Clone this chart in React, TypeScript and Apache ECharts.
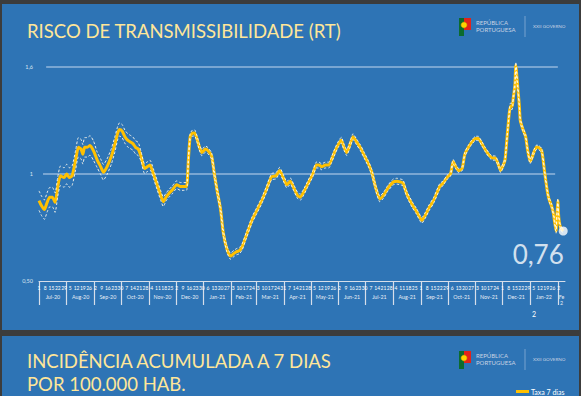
import React, { useEffect, useRef } from 'react';
import * as echarts from 'echarts';

// Day index counted from 1 Jul 2020
const rtDays = [0,3,6,9,12,15,18,21,24,28,31,34,37,41,44,47,49,51,54,57,61,65,69,72,76,81,85,88,90,93,96,99,102,105,108,111,114,118,121,124,128,132,136,139,142,145,149,154,158,162,165,167,169,172,174,177,180,182,186,189,193,196,199,203,206,210,214,218,221,224,227,232,238,243,249,254,260,265,269,273,277,281,285,289,292,296,301,306,310,313,316,320,324,327,331,335,338,341,344,348,351,355,359,363,368,372,376,381,385,390,396,400,404,407,411,417,422,428,432,436,441,448,452,456,460,463,466,469,473,476,480,484,488,491,495,499,504,507,510,513,516,519,521,524,527,529,530,532,533,535,537,538,541,544,546,549,551,553,556,558,562,565,568,570,573,575,578,579,580,581,583,586];
const rtValues = [0.913,0.885,0.867,0.903,0.931,0.931,0.903,0.986,1.041,1.032,1.050,1.032,1.041,1.123,1.187,1.178,1.151,1.187,1.187,1.197,1.169,1.123,1.087,1.059,1.087,1.142,1.206,1.261,1.279,1.270,1.242,1.224,1.215,1.206,1.187,1.178,1.142,1.078,1.087,1.096,1.050,0.995,0.940,0.908,0.931,0.949,0.968,0.995,0.986,0.986,0.986,1.123,1.242,1.261,1.261,1.224,1.178,1.160,1.178,1.169,1.142,1.050,0.968,0.867,0.748,0.665,0.628,0.642,0.651,0.656,0.674,0.738,0.812,0.858,0.913,0.968,1.036,1.041,1.068,1.032,0.995,1.013,0.977,0.940,0.931,0.958,1.004,1.050,1.096,1.096,1.087,1.096,1.096,1.123,1.169,1.206,1.224,1.187,1.160,1.206,1.242,1.215,1.187,1.151,1.105,1.059,0.986,0.922,0.940,0.977,1.009,1.013,1.009,1.004,0.949,0.894,0.858,0.812,0.839,0.876,0.913,0.986,1.004,1.032,1.050,1.114,1.087,1.068,1.078,1.151,1.187,1.215,1.233,1.233,1.206,1.174,1.142,1.132,1.132,1.105,1.068,1.096,1.123,1.279,1.398,1.398,1.435,1.508,1.609,1.508,1.398,1.325,1.279,1.242,1.178,1.114,1.132,1.160,1.187,1.187,1.169,1.068,0.968,0.922,0.885,0.848,0.757,0.848,0.913,0.830,0.775,0.757];
const rtUpper = [0.963,0.935,0.917,0.953,0.981,0.981,0.953,1.036,1.091,1.082,1.100,1.082,1.091,1.173,1.237,1.228,1.201,1.237,1.237,1.247,1.219,1.163,1.127,1.099,1.127,1.182,1.246,1.295,1.313,1.304,1.276,1.258,1.249,1.240,1.221,1.212,1.167,1.103,1.112,1.121,1.075,1.020,0.965,0.933,0.951,0.969,0.988,1.015,1.006,1.006,1.006,1.139,1.258,1.277,1.277,1.240,1.194,1.176,1.194,1.185,1.158,1.066,0.984,0.883,0.764,0.681,0.644,0.658,0.667,0.672,0.690,0.754,0.828,0.874,0.929,0.984,1.052,1.057,1.084,1.048,1.011,1.029,0.993,0.956,0.947,0.974,1.019,1.065,1.111,1.111,1.102,1.111,1.111,1.138,1.184,1.221,1.239,1.202,1.175,1.221,1.257,1.230,1.202,1.166,1.120,1.074,1.001,0.937,0.955,0.992,1.024,1.028,1.024,1.019,0.964,0.909,0.873,0.827,0.854,0.891,0.928,1.001,1.015,1.043,1.061,1.125,1.098,1.079,1.089,1.162,1.198,1.226,1.244,1.244,1.217,1.185,1.153,1.143,1.143,1.116,1.079,1.107,1.134,1.290,1.414,1.414,1.451,1.524,1.625,1.524,1.414,1.336,1.290,1.253,1.189,1.125,1.143,1.171,1.198,1.198,1.180,1.079,0.979,0.933,0.896,0.859,0.768,0.859,0.924,0.841,0.786,0.768];
const rtLower = [0.863,0.835,0.817,0.853,0.881,0.881,0.853,0.936,0.991,0.982,1.000,0.982,0.991,1.073,1.137,1.128,1.101,1.137,1.137,1.147,1.119,1.083,1.047,1.019,1.047,1.102,1.166,1.227,1.245,1.236,1.208,1.190,1.181,1.172,1.153,1.144,1.117,1.053,1.062,1.071,1.025,0.970,0.915,0.883,0.911,0.929,0.948,0.975,0.966,0.966,0.966,1.107,1.226,1.245,1.245,1.208,1.162,1.144,1.162,1.153,1.126,1.034,0.952,0.851,0.732,0.649,0.612,0.626,0.635,0.640,0.658,0.722,0.796,0.842,0.897,0.952,1.020,1.025,1.052,1.016,0.979,0.997,0.961,0.924,0.915,0.942,0.989,1.035,1.081,1.081,1.072,1.081,1.081,1.108,1.154,1.191,1.209,1.172,1.145,1.191,1.227,1.200,1.172,1.136,1.090,1.044,0.971,0.907,0.925,0.962,0.994,0.998,0.994,0.989,0.934,0.879,0.843,0.797,0.824,0.861,0.898,0.971,0.993,1.021,1.039,1.103,1.076,1.057,1.067,1.140,1.176,1.204,1.222,1.222,1.195,1.163,1.131,1.121,1.121,1.094,1.057,1.085,1.112,1.268,1.382,1.382,1.419,1.492,1.593,1.492,1.382,1.314,1.268,1.231,1.167,1.103,1.121,1.149,1.176,1.176,1.158,1.057,0.957,0.911,0.874,0.837,0.746,0.837,0.902,0.819,0.764,0.746];
const rtLatestLabel = '0,76';

const monthLabels = ['Jul-20','Aug-20','Sep-20','Oct-20','Nov-20','Dec-20','Jan-21','Feb-21','Mar-21','Apr-21','May-21','Jun-21','Jul-21','Aug-21','Sep-21','Oct-21','Nov-21','Dec-21','Jan-22','Fe\n2'];
const monthStartDays = [0,31,62,92,123,153,184,215,243,274,304,335,365,396,427,457,488,518,549,580];
const axisEndDay = 588;
const yTickValues = [0.5, 1.05, 1.6];
const yTickLabels = ['0,50', '1', '1,6'];

const titleTop = 'RISCO DE TRANSMISSIBILIDADE (RT)';
const titleBottom1 = 'INCIDÊNCIA ACUMULADA A 7 DIAS';
const titleBottom2 = 'POR 100.000 HAB.';
const legendBottom = 'Taxa 7 dias';

const BLUE = '#2E74B5';
const DARK = '#3C3C3C';
const TITLE = '#FFE699';
const FONT = 'Lato, "Noto Sans", sans-serif';

const startUTC = Date.UTC(2020, 6, 1);

function logo(dy: number) {
  return [
    { type: 'rect', shape: { x: 459, y: 18 + dy, width: 5, height: 18 }, style: { fill: '#0B6B2E' }, z: 50 },
    { type: 'rect', shape: { x: 464, y: 18 + dy, width: 7, height: 12 }, style: { fill: '#E2231A' }, z: 50 },
    { type: 'circle', shape: { cx: 464, cy: 25 + dy, r: 3 }, style: { fill: '#FFD200', stroke: '#C99A00', lineWidth: 0.5 }, z: 51 },
    { type: 'text', x: 476, y: 22.5 + dy, style: { text: 'REPÚBLICA', fill: '#C8D3E3', fontSize: 6, fontFamily: FONT, verticalAlign: 'middle' }, z: 50 },
    { type: 'text', x: 476, y: 29.5 + dy, style: { text: 'PORTUGUESA', fill: '#C8D3E3', fontSize: 6, fontFamily: FONT, verticalAlign: 'middle' }, z: 50 },
    { type: 'line', shape: { x1: 525, y1: 16 + dy, x2: 525, y2: 37 + dy }, style: { stroke: 'rgba(200,215,235,0.6)', lineWidth: 0.8 }, z: 50 },
    { type: 'text', x: 533, y: 25.5 + dy, style: { text: 'XXII GOVERNO', fill: '#C8D3E3', fontSize: 4.6, fontFamily: FONT, verticalAlign: 'middle' }, z: 50 },
  ];
}

export default function App() {
  const ref = useRef<HTMLDivElement>(null);
  useEffect(() => {
    if (!ref.current) return;
    const chart = echarts.init(ref.current, undefined, { renderer: 'svg' });
    const weekDays: number[] = [];
    for (let d = 0; d <= 581; d += 7) weekDays.push(d);
    const monthMid = monthStartDays.map((s, i) => (s + (i + 1 < monthStartDays.length ? monthStartDays[i + 1] : axisEndDay)) / 2);
    const mainData = rtDays.map((d, i) => [d, rtValues[i]]);
    const upData = rtDays.map((d, i) => [d, rtUpper[i]]);
    const loData = rtDays.map((d, i) => [d, rtLower[i]]);
    const last = rtDays.length - 1;

    chart.setOption({
      animation: false,
      backgroundColor: BLUE,
      grid: { left: 39, right: 16, top: 67, height: 214, containLabel: false, outerBoundsMode: 'none' },
      xAxis: [
        {
          type: 'value', min: 0, max: axisEndDay, position: 'bottom',
          axisLine: { show: true, lineStyle: { color: '#D6DEEA', width: 1 } },
          axisTick: { show: true, customValues: monthStartDays, length: 24, lineStyle: { color: '#D6DEEA', width: 1.2 } },
          splitLine: { show: false },
          axisLabel: {
            customValues: weekDays, margin: 4, fontSize: 5, color: '#FFFFFF', fontFamily: FONT,
            formatter: (v: number) => String(new Date(startUTC + v * 86400000).getUTCDate()),
          },
        },
        {
          type: 'value', min: 0, max: axisEndDay, position: 'bottom', offset: 0,
          axisLine: { show: false }, axisTick: { show: false }, splitLine: { show: false },
          axisLabel: {
            customValues: monthMid, margin: 13, fontSize: 5.3, lineHeight: 6, color: '#E8EEF6', fontFamily: FONT,
            formatter: (v: number) => monthLabels[monthMid.findIndex((m) => Math.abs(m - v) < 1e-6)] || '',
          },
        },
      ],
      yAxis: {
        type: 'value', min: 0.5, max: 1.6,
        axisLine: { show: false }, axisTick: { show: false }, splitLine: { show: false },
        axisLabel: {
          customValues: yTickValues, margin: 6, fontSize: 5.5, color: '#DCE5F1', fontFamily: FONT,
          formatter: (v: number) => yTickLabels[yTickValues.findIndex((t) => Math.abs(t - v) < 1e-6)] || '',
        },
      },
      series: [
        {
          type: 'line', data: [], z: 1,
          markLine: {
            silent: true, symbol: ['none', 'none'], label: { show: false },
            lineStyle: { color: '#93B7DD', width: 1.5, type: 'solid' },
            data: [
              [{ coord: [8, yTickValues[2]] }, { coord: [580, yTickValues[2]] }],
              [{ coord: [4.5, yTickValues[1]] }, { coord: [577, yTickValues[1]] }],
            ],
          },
        },
        {
          type: 'line', data: mainData, symbol: 'none', smooth: 0.2, clip: false, z: 10,
          lineStyle: { color: '#FFC000', width: 3 },
        },
        {
          type: 'line', data: upData, symbol: 'none', smooth: 0.2, clip: false, z: 11,
          lineStyle: { color: 'rgba(255,250,235,0.9)', width: 1, type: [2.5, 2] },
        },
        {
          type: 'line', data: loData, symbol: 'none', smooth: 0.2, clip: false, z: 11,
          lineStyle: { color: 'rgba(255,250,235,0.9)', width: 1, type: [2.5, 2] },
        },
        {
          type: 'scatter', data: [[rtDays[last], rtValues[last]]], symbolSize: 9, clip: false, z: 12,
          itemStyle: { color: '#FFFFFF' },
          label: {
            show: true, position: 'inside', offset: [-25, 23], formatter: rtLatestLabel,
            color: '#FFFFFF', fontSize: 26, fontFamily: FONT,
          },
        },
      ],
      graphic: [
        { type: 'rect', shape: { x: 0, y: 0, width: 581, height: 4 }, style: { fill: DARK }, z: 100 },
        { type: 'rect', shape: { x: 0, y: 0, width: 2, height: 396 }, style: { fill: DARK }, z: 100 },
        { type: 'rect', shape: { x: 579, y: 0, width: 2, height: 396 }, style: { fill: DARK }, z: 100 },
        { type: 'rect', shape: { x: 0, y: 330, width: 581, height: 6 }, style: { fill: DARK }, z: 100 },
        { type: 'text', x: 27, y: 31, style: { text: titleTop, fill: TITLE, fontSize: 18.5, fontFamily: FONT, verticalAlign: 'middle' }, z: 50 },
        ...logo(0),
        { type: 'text', x: 534, y: 314, style: { text: '2', fill: '#FFFFFF', fontSize: 7, fontFamily: FONT, align: 'center', verticalAlign: 'middle' }, z: 50 },
        { type: 'text', x: 27, y: 361, style: { text: titleBottom1, fill: TITLE, fontSize: 18.5, fontFamily: FONT, verticalAlign: 'middle' }, z: 50 },
        { type: 'text', x: 27, y: 384, style: { text: titleBottom2, fill: TITLE, fontSize: 18.5, fontFamily: FONT, verticalAlign: 'middle' }, z: 50 },
        ...logo(333),
        { type: 'line', shape: { x1: 516, y1: 391.5, x2: 529, y2: 391.5 }, style: { stroke: '#FFC000', lineWidth: 3 }, z: 50 },
        { type: 'text', x: 531, y: 391.5, style: { text: legendBottom, fill: '#FFFFFF', fontSize: 7, fontFamily: FONT, verticalAlign: 'middle' }, z: 50 },
      ],
    });
    return () => chart.dispose();
  }, []);
  return <div ref={ref} style={{ position: 'fixed', left: 0, top: 0, width: 581, height: 396 }} />;
}
